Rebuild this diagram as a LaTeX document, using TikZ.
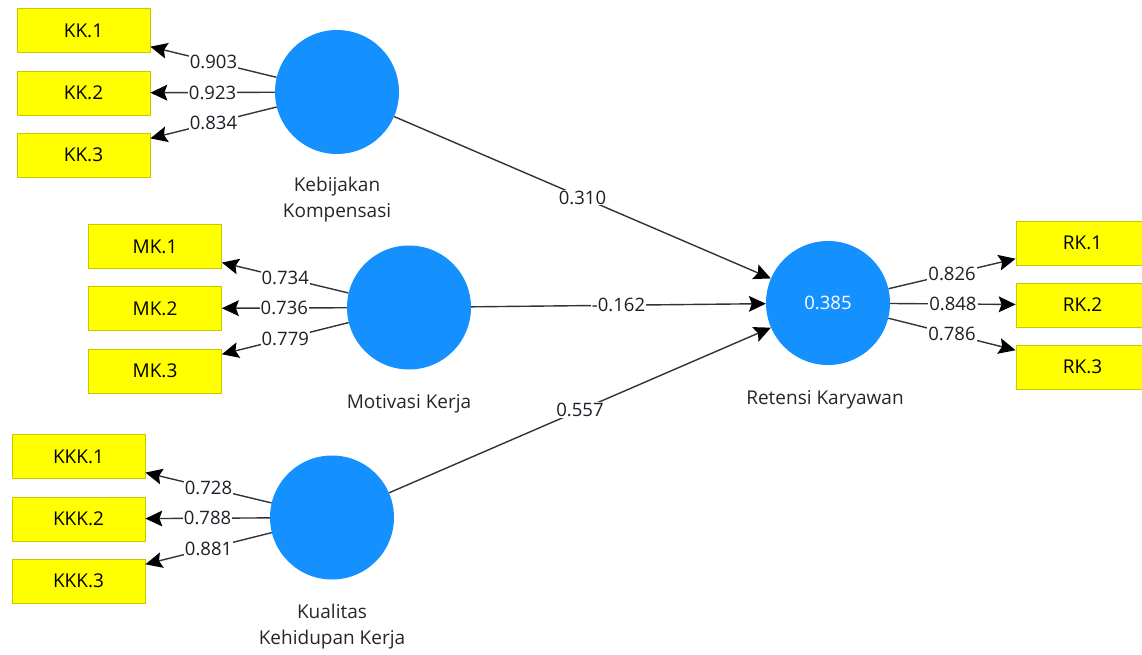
\documentclass[tikz,border=0pt]{standalone}
\usepackage{fontspec}
\setmainfont{Open Sans}
\usetikzlibrary{arrows.meta}
\definecolor{boxyellow}{HTML}{FFFF00}
\definecolor{boxedge}{HTML}{C8C800}
\definecolor{lvblue}{HTML}{1591FF}
\definecolor{linegray}{HTML}{333333}
\definecolor{labtext}{HTML}{1E1E28}
\tikzset{
  ind/.style={rectangle, draw=boxedge, fill=boxyellow, line width=0.8pt,
    minimum width=133pt, minimum height=44pt, inner sep=0pt,
    font=\fontsize{19}{20}\selectfont, text=black},
  lv/.style={circle, fill=lvblue, draw=none, minimum size=124pt, inner sep=0pt,
    font=\fontsize{18.5}{20}\selectfont, text=white},
  lvname/.style={align=center, font=\fontsize{19}{26}\selectfont, text=black!85, inner sep=0pt},
  tipstyle/.tip={Stealth[length=17pt,width=16pt,inset=3pt,line width=0pt,color=black,fill=black]},
  conn/.style={draw=linegray, line width=1.4pt, arrows={-tipstyle}},
  coef/.style={fill=white, inner sep=1pt, font=\fontsize{18.5}{20}\selectfont, text=labtext}
}
\begin{document}
\begin{tikzpicture}[x=1pt,y=-1pt]
\useasboundingbox (0,0) rectangle (1142,655);
% indicator boxes
\node[ind] (kk1) at (83.5,30.5) {KK.1};
\node[ind] (kk2) at (83.5,93) {KK.2};
\node[ind] (kk3) at (83.5,155) {KK.3};
\node[ind] (mk1) at (155,246.5) {MK.1};
\node[ind] (mk2) at (155,308.5) {MK.2};
\node[ind] (mk3) at (155,371) {MK.3};
\node[ind] (kkk1) at (78.5,456.5) {KKK.1};
\node[ind] (kkk2) at (78.5,519) {KKK.2};
\node[ind] (kkk3) at (78.5,581) {KKK.3};
\node[ind] (rk1) at (1082.5,243) {RK.1};
\node[ind] (rk2) at (1082.5,305) {RK.2};
\node[ind] (rk3) at (1082.5,367) {RK.3};
% latent variables
\node[lv] (kk) at (337,92) {};
\node[lv] (mk) at (409,307.5) {};
\node[lv] (kkk) at (332,517.5) {};
\node[lv] (rk) at (828,303) {0.385};
% names
\node[lvname] (kkn) at (337,200) {Kebijakan\\Kompensasi};
\node[lvname] (mkn) at (409,404) {Motivasi Kerja};
\node[lvname] (kkkn) at (332,627) {Kualitas\\Kehidupan Kerja};
\node[lvname] (rkn) at (825,400) {Retensi Karyawan};
% outer loadings
\draw[conn] (kk) -- node[coef] {0.903} (kk1);
\draw[conn] (kk) -- node[coef] {0.923} (kk2);
\draw[conn] (kk) -- node[coef] {0.834} (kk3);
\draw[conn] (mk) -- node[coef] {0.734} (mk1);
\draw[conn] (mk) -- node[coef] {0.736} (mk2);
\draw[conn] (mk) -- node[coef] {0.779} (mk3);
\draw[conn] (kkk) -- node[coef] {0.728} (kkk1);
\draw[conn] (kkk) -- node[coef] {0.788} (kkk2);
\draw[conn] (kkk) -- node[coef] {0.881} (kkk3);
\draw[conn] (rk) -- node[coef] {0.826} (rk1);
\draw[conn] (rk) -- node[coef] {0.848} (rk2);
\draw[conn] (rk) -- node[coef] {0.786} (rk3);
% path coefficients
\draw[conn] (kk) -- node[coef] {0.310} (rk);
\draw[conn] (mk) -- node[coef] {-0.162} (rk);
\draw[conn] (kkk) -- node[coef] {0.557} (rk);
\end{tikzpicture}
\end{document}
